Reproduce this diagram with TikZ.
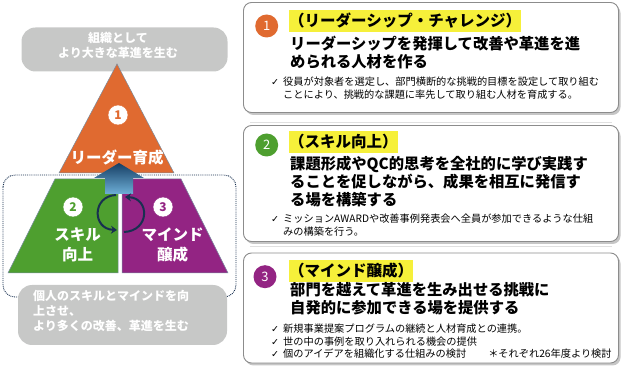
\documentclass[tikz,border=0pt]{standalone}
\usepackage{fontspec}
\setmainfont{Noto Sans CJK JP}
\newfontfamily\symfont{DejaVu Sans}
\usetikzlibrary{shadows,arrows.meta}

\definecolor{orangeA}{RGB}{224,106,48}
\definecolor{greenA}{RGB}{78,159,47}
\definecolor{purpleA}{RGB}{147,36,131}
\definecolor{grayA}{RGB}{199,200,199}
\definecolor{navyA}{RGB}{24,48,80}
\definecolor{steelA}{RGB}{120,140,160}
\definecolor{yellowA}{RGB}{246,240,58}
\definecolor{arrowtop}{RGB}{22,62,100}
\definecolor{arrowbot}{RGB}{110,175,215}

\newcommand{\tickmark}{\llap{{\symfont\fontsize{9.5}{9.5}\selectfont ✓}\hspace{4pt}}}

\begin{document}
\begin{tikzpicture}[
	x=1pt,y=-1pt,
	goalbox/.style={
		rectangle,
		rounded corners=14pt,
		fill=grayA,
		inner sep=0pt
	},
	goaltext/.style={
		text=white,
		align=left,
		inner sep=0pt,
		font=\bfseries\fontsize{12}{15}\selectfont
	},
	tier/.style={draw=steelA, line width=0.5pt},
	tiernum/.style={
		circle,
		fill=white,
		draw=#1,
		text=#1,
		minimum size=20pt,
		inner sep=0pt,
		font=\bfseries\fontsize{12}{12}\selectfont
	},
	tierlabel/.style={
		text=white,
		align=center,
		inner sep=0pt,
		font=\bfseries\fontsize{15.5}{20}\selectfont
	},
	turnarrow/.style={navyA, line width=2pt, -{Stealth[length=6pt,width=8pt]}},
	panel/.style={
		draw=black!45,
		line width=0.9pt,
		rounded corners=8pt,
		fill=white,
		drop shadow={shadow xshift=2pt,shadow yshift=-2.5pt,opacity=0.45}
	},
	badge/.style={
		circle,
		fill=#1,
		text=white,
		minimum size=23pt,
		inner sep=0pt,
		font=\fontsize{13}{13}\selectfont
	},
	tagline/.style={
		fill=yellowA,
		anchor=west,
		inner xsep=0pt,
		inner ysep=0pt,
		minimum height=22pt,
		font=\bfseries\fontsize{15.5}{18}\selectfont
	},
	headline/.style={
		anchor=north west,
		align=left,
		inner sep=0pt,
		font=\bfseries\fontsize{15.3}{18}\selectfont
	},
	notes/.style={
		anchor=north west,
		align=left,
		inner sep=0pt,
		font=\fontsize{10.2}{13}\selectfont
	}
]
\useasboundingbox (0,0) rectangle (624,371);

% Objetivo superior
\node[goalbox, minimum width=206pt, minimum height=44pt] (goal) at (124.5,49.5) {};
\node[goaltext, align=center] (goaltxt) at (118,45.5) {組織として\\より大きな革進を生む};

% Piramide
\draw[tier, fill=orangeA] (117,64) -- (174,173) -- (59,173) -- cycle;
\draw[tier, fill=greenA] (55,179) -- (118,179) -- (118,273) -- (8,273) -- cycle;
\draw[tier, fill=purpleA] (122,179) -- (181,179) -- (228,273) -- (122,273) -- cycle;
\draw[navyA, densely dotted, line width=0.9pt, rounded corners=12pt] (3,175) rectangle (236,297);

% Flecha central y ciclo
\shade[top color=arrowtop, bottom color=arrowbot] (119,163) -- (144,178) -- (133,178) -- (133,194)
	-- (105,194) -- (105,178) -- (94,178) -- cycle;
\coordinate (lt) at (116,195);
\coordinate (lb) at (117,230);
\coordinate (rb) at (124,232);
\coordinate (rt) at (125,197);
\draw[turnarrow] (lt) .. controls (92,196) and (92,229) .. (lb);
\draw[turnarrow] (rb) .. controls (150,231) and (150,198) .. (rt);

% Niveles
\node[tiernum=orangeA] (n1) at (118,115) {1};
\node[tierlabel] (t1) at (117,158) {リーダー育成};
\node[tiernum=greenA] (n2) at (73,207) {2};
\node[tierlabel] (t2) at (77.5,245) {スキル\\向上};
\node[tiernum=purpleA] (n3) at (163,207) {3};
\node[tierlabel] (t3) at (172.5,245) {マインド\\醸成};

% Objetivo inferior
\node[goalbox, minimum width=209pt, minimum height=60pt] (base) at (122.5,315) {};
\node[goaltext, anchor=north west] (basetxt) at (33,290.5) {個人のスキルとマインドを向\\上させ、\\より多くの改善、革進を生む};

% Separadores
\draw[black!12, line width=0.6pt] (250,122.5) -- (612,122.5);
\draw[black!12, line width=0.6pt] (250,246.5) -- (612,246.5);

% Panel 1
\node[panel, minimum width=375pt, minimum height=110pt] (p1) at (431,57.5) {};
\node[badge=orangeA] (b1) at (266.7,26) {1};
\node[tagline] (h1) at (289,21) {（リーダーシップ・チャレンジ）};
\node[headline] (d1) at (290,35.7) {リーダーシップを発揮して改善や革進を進\\められる人材を作る};
\node[notes] (c1) at (283,77) {\tickmark 役員が対象者を選定し、部門横断的な挑戦的目標を設定して取り組む\\ことにより、挑戦的な課題に率先して取り組む人材を育成する。};

% Panel 2
\node[panel, minimum width=375pt, minimum height=116pt] (p2) at (431,183.5) {};
\node[badge=greenA] (b2) at (266.7,145) {2};
\node[tagline] (h2) at (289,142) {（スキル向上）};
\node[headline] (d2) at (290,155.7) {課題形成やQC的思考を全社的に学び実践す\\ることを促しながら、成果を相互に発信す\\る場を構築する};
\node[notes] (c2) at (283,214) {\tickmark ミッションAWARDや改善事例発表会へ全員が参加できるような仕組\\みの構築を行う。};

% Panel 3
\node[panel, minimum width=375pt, minimum height=110pt] (p3) at (431,308) {};
\node[badge=purpleA] (b3) at (265,276.7) {3};
\node[tagline] (h3) at (289,271) {（マインド醸成）};
\node[headline] (d3) at (290,282.7) {部門を越えて革進を生み出せる挑戦に\\自発的に参加できる場を提供する};
\node[notes, font=\fontsize{10.2}{12.5}\selectfont] (c3) at (283,324) {\tickmark 新規事業提案プログラムの継続と人材育成との連携。\\\tickmark 世の中の事例を取り入れられる機会の提供\\\tickmark 個のアイデアを組織化する仕組みの検討\hspace{22pt}＊それぞれ26年度より検討};

\end{tikzpicture}
\end{document}
